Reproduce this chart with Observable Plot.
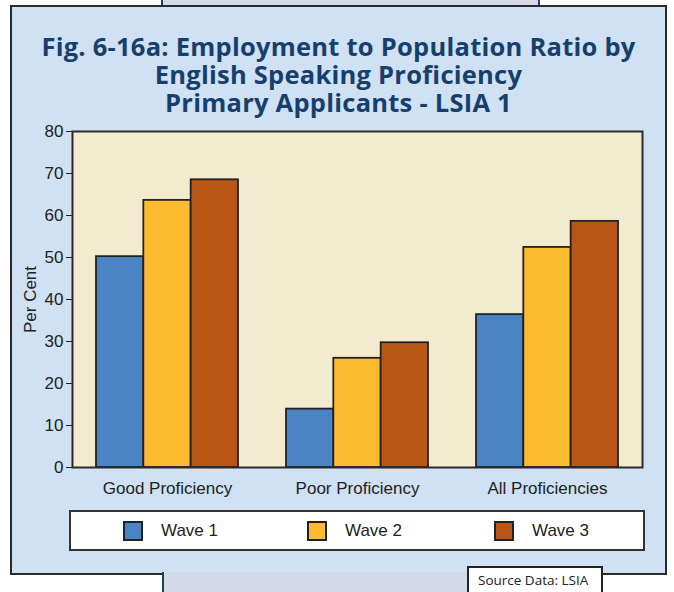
<!DOCTYPE html>
<html>
<head>
<meta charset="utf-8">
<script src="https://cdn.jsdelivr.net/npm/d3@7"></script>
<script src="https://cdn.jsdelivr.net/npm/@observablehq/plot@0.6"></script>
<style>
  html, body { margin: 0; padding: 0; background: #fff; }
  #stage { position: relative; width: 674px; height: 592px; overflow: hidden; font-family: "Liberation Sans", Arial, sans-serif; }
  .strip-top { position: absolute; left: 161px; top: -2px; width: 375px; height: 8px; background: #D4DAE7; border-left: 2px solid #1E4070; border-right: 2px solid #1E4070; }
  .strip-bot { position: absolute; left: 162px; top: 572px; width: 306px; height: 30px; background: #D4DAE7; border-left: 2px solid #1E4070; }
  .panel { position: absolute; left: 10px; top: 5px; width: 653px; height: 566px; background: #CFE1F2; border: 2px solid #2a2a2a; }
  .title { position: absolute; left: 10px; width: 657px; text-align: center; font-family: "Open Sans", sans-serif; font-weight: 700; font-size: 25.5px; line-height: 26px; height: 26px; color: #173F6E; letter-spacing: 0.25px; white-space: nowrap; }
  #chart { position: absolute; left: 10px; top: 120px; }
  .legend { position: absolute; left: 69px; top: 510px; width: 572px; height: 37px; background: #fff; border: 2px solid #333; }
  .legend .item { position: absolute; top: 9px; display: flex; align-items: center; font-size: 17px; color: #222; }
  .legend .sw { width: 16px; height: 16px; border: 2px solid #222; margin-right: 18px; }
  .source { position: absolute; left: 467px; top: 566px; width: 132px; height: 30px; background: #fff; border: 2px solid #222; font-family: "Open Sans", sans-serif; font-size: 13.5px; color: #222; }
  .source span { position: absolute; left: 9px; top: 3px; }
</style>
</head>
<body>
<div id="stage">
  <div class="strip-top"></div>
  <div class="panel"></div>
  <div class="strip-bot"></div>
  <div class="title" style="top:33px">Fig. 6-16a: Employment to Population Ratio by</div>
  <div class="title" style="top:61px">English Speaking Proficiency</div>
  <div class="title" style="top:89px">Primary Applicants - LSIA 1</div>
  <div id="chart"></div>
  <div class="legend" id="legend"></div>
  <div class="source"><span>Source Data: LSIA</span></div>
</div>
<script>
const categories = ["Good Proficiency", "Poor Proficiency", "All Proficiencies"];
const waves = ["Wave 1", "Wave 2", "Wave 3"];
const wave1 = [50.2, 13.9, 36.4];
const wave2 = [63.6, 26.0, 52.4];
const wave3 = [68.5, 29.7, 58.6];
const colors = ["#4B84C4", "#FDBB30", "#B95615"];
const yTicks = [0, 10, 20, 30, 40, 50, 60, 70, 80];

const series = [wave1, wave2, wave3];

const W = 650, H = 380;
const mL = 62, mR = 18, mT = 11, mB = 33;
const pInner = 0.2526, pOuter = 0.1263;
// width of one wave's bar inside a category band
const band = (W - mL - mR) / (categories.length - pInner + 2 * pOuter) * (1 - pInner);
const sub = band / waves.length;

const barMarks = waves.map((w, j) =>
  Plot.barY(
    categories.map((c, i) => ({category: c, wave: w, value: series[j][i]})),
    {x: "category", y: "value", fill: colors[j], stroke: "#222", strokeWidth: 1.8,
     insetLeft: j * sub, insetRight: (waves.length - 1 - j) * sub}
  )
);

const plot = Plot.plot({
  width: W,
  height: H,
  marginLeft: mL,
  marginRight: mR,
  marginTop: mT,
  marginBottom: mB,
  style: {background: "transparent", fontFamily: "'Liberation Sans', Arial, sans-serif", fontSize: "17px", color: "#222", overflow: "visible"},
  x: {domain: categories, paddingInner: pInner, paddingOuter: pOuter, label: null, tickSize: 0, tickPadding: 14},
  y: {domain: [0, 80], ticks: yTicks, tickSize: 6, tickPadding: 3, label: "Per Cent", labelAnchor: "center", labelArrow: "none", labelOffset: 49},
  marks: [
    Plot.frame({fill: "#F3EBCF", stroke: null}),
    ...barMarks,
    Plot.frame({stroke: "#2a2a2a", strokeWidth: 2})
  ]
});
document.getElementById("chart").appendChild(plot);

// legend
const legend = document.getElementById("legend");
const legendLeft = [52, 236, 423];
waves.forEach((w, i) => {
  const item = document.createElement("div");
  item.className = "item";
  item.style.left = legendLeft[i] + "px";
  const sw = document.createElement("div");
  sw.className = "sw";
  sw.style.background = colors[i];
  const t = document.createElement("span");
  t.textContent = w;
  item.appendChild(sw);
  item.appendChild(t);
  legend.appendChild(item);
});
</script>
</body>
</html>
